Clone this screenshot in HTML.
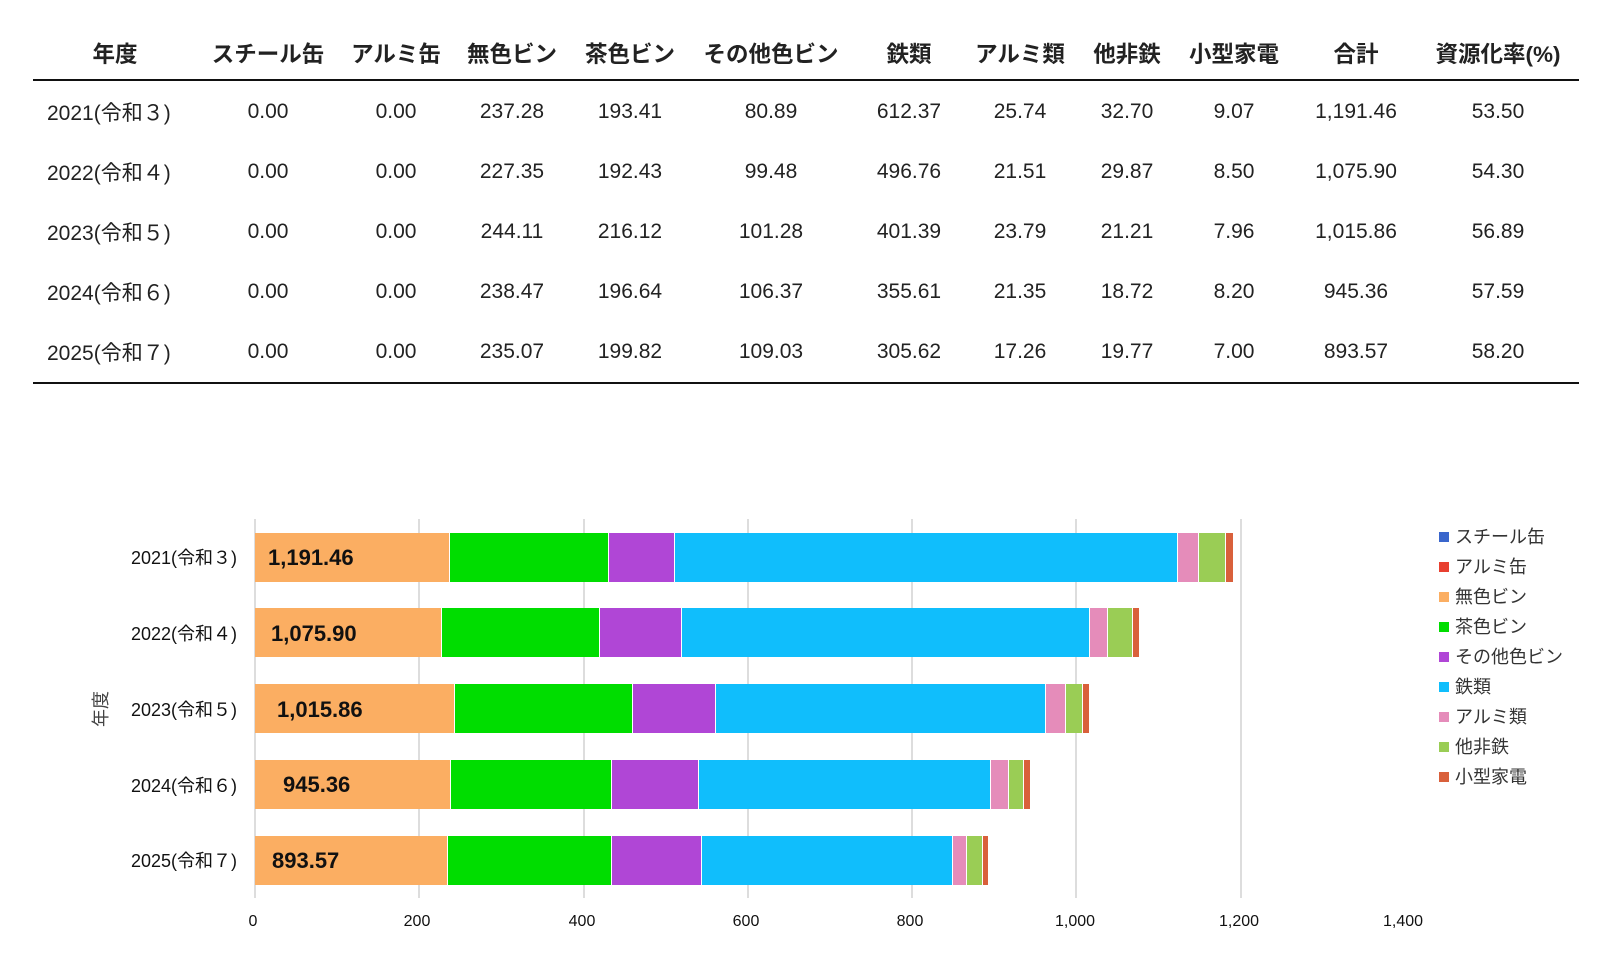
<!DOCTYPE html>
<html><head><meta charset="utf-8"><style>
body{margin:0;width:1610px;height:974px;background:#fff;position:relative;overflow:hidden;font-family:"Liberation Sans","Noto Sans CJK JP",sans-serif;color:#222}
.a{position:absolute}
.h{font-weight:bold;font-size:22.5px;top:37px;transform:translateX(-50%);white-space:nowrap}
.c{font-size:21px;transform:translate(-50%,-50%);white-space:nowrap}
.l{font-size:21px;transform:translateY(-50%);white-space:nowrap}
.bar{position:absolute;left:255px;height:49px;display:flex}
.bar div{height:100%;box-sizing:border-box;border-right:1px solid #fff}
.o{background:#FBAE62}.g{background:#00DD00}.p{background:#B046D6}.cy{background:#10BEFC}.pk{background:#E58CBA}.lg{background:#9ACD55}.sa{background:#D9603B}
.dl{position:absolute;font-weight:bold;font-size:22px;color:#111;transform:translateY(-50%)}
.cat{position:absolute;right:1373px;font-size:18px;transform:translateY(-50%);white-space:nowrap;color:#111}
.grid{position:absolute;top:519px;height:379px;width:2px;background:#ddd}
.tk{position:absolute;top:913px;font-size:16px;transform:translateX(-50%);color:#111}
.lgi{position:absolute;left:1439px;font-size:18px;color:#333;transform:translateY(-50%);white-space:nowrap}
.lgi span{display:inline-block;width:10px;height:10px;margin-right:6px;vertical-align:1px}
</style></head><body>
<div class="a h" style="left:115px">年度</div>
<div class="a h" style="left:268px">スチール缶</div>
<div class="a h" style="left:396px">アルミ缶</div>
<div class="a h" style="left:512px">無色ビン</div>
<div class="a h" style="left:630px">茶色ビン</div>
<div class="a h" style="left:771px">その他色ビン</div>
<div class="a h" style="left:909px">鉄類</div>
<div class="a h" style="left:1020px">アルミ類</div>
<div class="a h" style="left:1127px">他非鉄</div>
<div class="a h" style="left:1234px">小型家電</div>
<div class="a h" style="left:1356px">合計</div>
<div class="a h" style="left:1498px">資源化率(%)</div>
<div class="a" style="left:33px;top:79px;width:1546px;height:2px;background:#111"></div>
<div class="a" style="left:33px;top:382px;width:1546px;height:2px;background:#111"></div>

<div class="a l" style="left:47px;top:112px">2021(令和３)</div>
<div class="a c" style="left:268px;top:112px">0.00</div><div class="a c" style="left:396px;top:112px">0.00</div><div class="a c" style="left:512px;top:112px">237.28</div><div class="a c" style="left:630px;top:112px">193.41</div><div class="a c" style="left:771px;top:112px">80.89</div><div class="a c" style="left:909px;top:112px">612.37</div><div class="a c" style="left:1020px;top:112px">25.74</div><div class="a c" style="left:1127px;top:112px">32.70</div><div class="a c" style="left:1234px;top:112px">9.07</div><div class="a c" style="left:1356px;top:112px">1,191.46</div><div class="a c" style="left:1498px;top:112px">53.50</div>

<div class="a l" style="left:47px;top:172px">2022(令和４)</div>
<div class="a c" style="left:268px;top:172px">0.00</div><div class="a c" style="left:396px;top:172px">0.00</div><div class="a c" style="left:512px;top:172px">227.35</div><div class="a c" style="left:630px;top:172px">192.43</div><div class="a c" style="left:771px;top:172px">99.48</div><div class="a c" style="left:909px;top:172px">496.76</div><div class="a c" style="left:1020px;top:172px">21.51</div><div class="a c" style="left:1127px;top:172px">29.87</div><div class="a c" style="left:1234px;top:172px">8.50</div><div class="a c" style="left:1356px;top:172px">1,075.90</div><div class="a c" style="left:1498px;top:172px">54.30</div>

<div class="a l" style="left:47px;top:232px">2023(令和５)</div>
<div class="a c" style="left:268px;top:232px">0.00</div><div class="a c" style="left:396px;top:232px">0.00</div><div class="a c" style="left:512px;top:232px">244.11</div><div class="a c" style="left:630px;top:232px">216.12</div><div class="a c" style="left:771px;top:232px">101.28</div><div class="a c" style="left:909px;top:232px">401.39</div><div class="a c" style="left:1020px;top:232px">23.79</div><div class="a c" style="left:1127px;top:232px">21.21</div><div class="a c" style="left:1234px;top:232px">7.96</div><div class="a c" style="left:1356px;top:232px">1,015.86</div><div class="a c" style="left:1498px;top:232px">56.89</div>

<div class="a l" style="left:47px;top:292px">2024(令和６)</div>
<div class="a c" style="left:268px;top:292px">0.00</div><div class="a c" style="left:396px;top:292px">0.00</div><div class="a c" style="left:512px;top:292px">238.47</div><div class="a c" style="left:630px;top:292px">196.64</div><div class="a c" style="left:771px;top:292px">106.37</div><div class="a c" style="left:909px;top:292px">355.61</div><div class="a c" style="left:1020px;top:292px">21.35</div><div class="a c" style="left:1127px;top:292px">18.72</div><div class="a c" style="left:1234px;top:292px">8.20</div><div class="a c" style="left:1356px;top:292px">945.36</div><div class="a c" style="left:1498px;top:292px">57.59</div>

<div class="a l" style="left:47px;top:352px">2025(令和７)</div>
<div class="a c" style="left:268px;top:352px">0.00</div><div class="a c" style="left:396px;top:352px">0.00</div><div class="a c" style="left:512px;top:352px">235.07</div><div class="a c" style="left:630px;top:352px">199.82</div><div class="a c" style="left:771px;top:352px">109.03</div><div class="a c" style="left:909px;top:352px">305.62</div><div class="a c" style="left:1020px;top:352px">17.26</div><div class="a c" style="left:1127px;top:352px">19.77</div><div class="a c" style="left:1234px;top:352px">7.00</div><div class="a c" style="left:1356px;top:352px">893.57</div><div class="a c" style="left:1498px;top:352px">58.20</div>

<!-- chart -->
<div class="grid" style="left:254px"></div>
<div class="grid" style="left:418px"></div>
<div class="grid" style="left:583px"></div>
<div class="grid" style="left:747px"></div>
<div class="grid" style="left:911px"></div>
<div class="grid" style="left:1075px"></div>
<div class="grid" style="left:1240px"></div>

<div class="bar" style="top:533px"><div class="o" style="width:195px"></div><div class="g" style="width:159px"></div><div class="p" style="width:66px"></div><div class="cy" style="width:503px"></div><div class="pk" style="width:21px"></div><div class="lg" style="width:27px"></div><div class="sa" style="width:8px"></div></div>
<div class="bar" style="top:608px"><div class="o" style="width:187px"></div><div class="g" style="width:158px"></div><div class="p" style="width:82px"></div><div class="cy" style="width:408px"></div><div class="pk" style="width:18px"></div><div class="lg" style="width:25px"></div><div class="sa" style="width:7px"></div></div>
<div class="bar" style="top:684px"><div class="o" style="width:200px"></div><div class="g" style="width:178px"></div><div class="p" style="width:83px"></div><div class="cy" style="width:330px"></div><div class="pk" style="width:20px"></div><div class="lg" style="width:17px"></div><div class="sa" style="width:7px"></div></div>
<div class="bar" style="top:760px"><div class="o" style="width:196px"></div><div class="g" style="width:161px"></div><div class="p" style="width:87px"></div><div class="cy" style="width:292px"></div><div class="pk" style="width:18px"></div><div class="lg" style="width:15px"></div><div class="sa" style="width:7px"></div></div>
<div class="bar" style="top:836px"><div class="o" style="width:193px"></div><div class="g" style="width:164px"></div><div class="p" style="width:90px"></div><div class="cy" style="width:251px"></div><div class="pk" style="width:14px"></div><div class="lg" style="width:16px"></div><div class="sa" style="width:6px"></div></div>

<div class="dl" style="left:268px;top:558px">1,191.46</div>
<div class="dl" style="left:271px;top:634px">1,075.90</div>
<div class="dl" style="left:277px;top:710px">1,015.86</div>
<div class="dl" style="left:283px;top:785px">945.36</div>
<div class="dl" style="left:272px;top:861px">893.57</div>

<div class="cat" style="top:557px">2021(令和３)</div>
<div class="cat" style="top:633px">2022(令和４)</div>
<div class="cat" style="top:709px">2023(令和５)</div>
<div class="cat" style="top:785px">2024(令和６)</div>
<div class="cat" style="top:860px">2025(令和７)</div>
<div class="a" style="left:82px;top:696px;font-size:18px;color:#444;transform:rotate(-90deg)">年度</div>

<div class="tk" style="left:253px">0</div>
<div class="tk" style="left:417px">200</div>
<div class="tk" style="left:582px">400</div>
<div class="tk" style="left:746px">600</div>
<div class="tk" style="left:910px">800</div>
<div class="tk" style="left:1075px">1,000</div>
<div class="tk" style="left:1239px">1,200</div>
<div class="tk" style="left:1403px">1,400</div>

<div class="lgi" style="top:536px"><span style="background:#3A66CC"></span>スチール缶</div>
<div class="lgi" style="top:566px"><span style="background:#E84030"></span>アルミ缶</div>
<div class="lgi" style="top:596px"><span style="background:#FBAE62"></span>無色ビン</div>
<div class="lgi" style="top:626px"><span style="background:#00DD00"></span>茶色ビン</div>
<div class="lgi" style="top:656px"><span style="background:#B046D6"></span>その他色ビン</div>
<div class="lgi" style="top:686px"><span style="background:#10BEFC"></span>鉄類</div>
<div class="lgi" style="top:716px"><span style="background:#E58CBA"></span>アルミ類</div>
<div class="lgi" style="top:746px"><span style="background:#9ACD55"></span>他非鉄</div>
<div class="lgi" style="top:776px"><span style="background:#D9603B"></span>小型家電</div>
</body></html>
